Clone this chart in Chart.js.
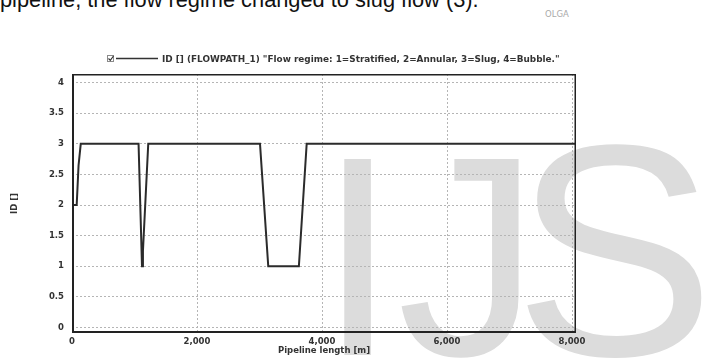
<!DOCTYPE html>
<html>
<head>
<meta charset="utf-8">
<script src="https://cdn.jsdelivr.net/npm/chart.js@4/dist/chart.umd.min.js"></script>
<style>
  html, body { margin: 0; padding: 0; background: #fff; }
  #page { position: relative; width: 712px; height: 362px; overflow: hidden; }
  .t { position: absolute; white-space: nowrap; line-height: 0; }
  #mark { font-family: "Liberation Sans", Arial, sans-serif; font-size: 285px; color: #dcdcdc; left: 318px; top: 251px; }
  #mark .s { margin-left: -26px; font-size: 302px; }
  #lead { font-family: "Liberation Sans", Arial, sans-serif; font-size: 21.8px; color: #111; left: 0px; top: -0.5px; }
  #brand { font-family: "DejaVu Sans", sans-serif; font-size: 8.5px; color: #aaa; left: 545px; top: 14px; }
  #chart { position: absolute; left: 0; top: 0; }
</style>
</head>
<body>
<div id="page">
  <div class="t" id="mark">IJ<span class="s">S</span></div>
  <div class="t" id="lead">pipeline, the flow regime changed to slug flow (3).</div>
  <div class="t" id="brand">OLGA</div>
  <canvas id="chart" width="712" height="362"></canvas>
</div>
<script>
// Axis tick values
const xTicks = [0, 2000, 4000, 6000, 8000];
const yTicks = [0, 0.5, 1, 1.5, 2, 2.5, 3, 3.5, 4];

// Flow regime ID along the pipeline (1=Stratified, 2=Annular, 3=Slug, 4=Bubble)
const pipelineLength = [0, 10, 75, 105, 140, 1065, 1120, 1135, 1220, 3008, 3140, 3630, 3755, 8064];
const flowRegime     = [1, 2, 2, 2.65, 3, 3, 1, 1.25, 3, 3, 1, 1, 3, 3];

const legendText = 'ID [] (FLOWPATH_1) "Flow regime: 1=Stratified, 2=Annular, 3=Slug, 4=Bubble."';

const FONT = 'DejaVu Sans';
const INK = '#333333';

// Plot frame: heavy left/bottom axes, lighter top/right edges
const framePlugin = {
  id: 'frame',
  afterDatasetsDraw(chart) {
    const { ctx, chartArea: a } = chart;
    ctx.save();
    ctx.strokeStyle = '#222';
    ctx.lineWidth = 1.5;
    ctx.beginPath();
    ctx.moveTo(a.left, a.top + 0.75);
    ctx.lineTo(a.right - 0.75, a.top + 0.75);
    ctx.lineTo(a.right - 0.75, a.bottom);
    ctx.stroke();
    ctx.lineWidth = 2;
    ctx.beginPath();
    ctx.moveTo(a.left + 1, a.top);
    ctx.lineTo(a.left + 1, a.bottom - 1);
    ctx.lineTo(a.right, a.bottom - 1);
    ctx.stroke();
    ctx.restore();
  }
};

// Series key with a tick box, line sample and description
const keyPlugin = {
  id: 'seriesKey',
  afterDraw(chart) {
    const { ctx } = chart;
    ctx.save();
    ctx.strokeStyle = '#8a8a8a';
    ctx.lineWidth = 1;
    ctx.strokeRect(107.5, 55.5, 6, 6);
    ctx.strokeStyle = INK;
    ctx.lineWidth = 1.2;
    ctx.beginPath();
    ctx.moveTo(108.5, 58.5);
    ctx.lineTo(110.3, 60.3);
    ctx.lineTo(113.5, 56);
    ctx.stroke();
    ctx.lineWidth = 1.5;
    ctx.beginPath();
    ctx.moveTo(116, 58.5);
    ctx.lineTo(158, 58.5);
    ctx.stroke();
    ctx.fillStyle = INK;
    ctx.font = 'bold 8.9px "' + FONT + '"';
    ctx.textBaseline = 'alphabetic';
    ctx.fillText(legendText, 162, 61.5);
    ctx.restore();
  }
};

new Chart(document.getElementById('chart'), {
  type: 'line',
  data: {
    datasets: [{
      label: legendText,
      data: pipelineLength.map((x, i) => ({ x: x, y: flowRegime[i] })),
      borderColor: '#2b2b2b',
      borderWidth: 2,
      pointRadius: 0,
      tension: 0,
      fill: false
    }]
  },
  options: {
    responsive: false,
    animation: false,
    devicePixelRatio: 1,
    layout: { padding: { left: 6, top: 74, right: 136, bottom: 0 } },
    plugins: { legend: { display: false }, tooltip: { enabled: false } },
    scales: {
      x: {
        type: 'linear',
        min: 0,
        max: 8064,
        afterBuildTicks: s => { s.ticks = xTicks.map(v => ({ value: v })); },
        afterFit: s => { s.height = 29; },
        ticks: {
          callback: v => v.toLocaleString('en-US'),
          color: INK,
          font: { family: FONT, size: 8.5, weight: 'bold' },
          padding: 4,
          maxRotation: 0,
          minRotation: 0,
          autoSkip: false
        },
        grid: { color: '#b5b5b5', lineWidth: 1, drawTicks: false },
        border: { display: false, dash: [2, 2] },
        title: {
          display: true,
          text: 'Pipeline length [m]',
          color: INK,
          font: { family: FONT, size: 8.5, weight: 'bold' },
          padding: { top: 0, bottom: 6 }
        }
      },
      y: {
        type: 'linear',
        min: -0.09,
        max: 4.14,
        afterBuildTicks: s => { s.ticks = yTicks.map(v => ({ value: v })); },
        afterFit: s => { s.width = 66; },
        ticks: {
          callback: v => String(v),
          color: INK,
          font: { family: FONT, size: 8.5, weight: 'bold' },
          padding: 8,
          autoSkip: false
        },
        grid: { color: '#b5b5b5', lineWidth: 1, drawTicks: false },
        border: { display: false, dash: [2, 2] },
        title: {
          display: true,
          text: 'ID []',
          color: INK,
          font: { family: FONT, size: 8.5, weight: 'bold' },
          padding: { top: 4, bottom: 0 }
        }
      }
    }
  },
  plugins: [framePlugin, keyPlugin]
});
</script>
</body>
</html>
